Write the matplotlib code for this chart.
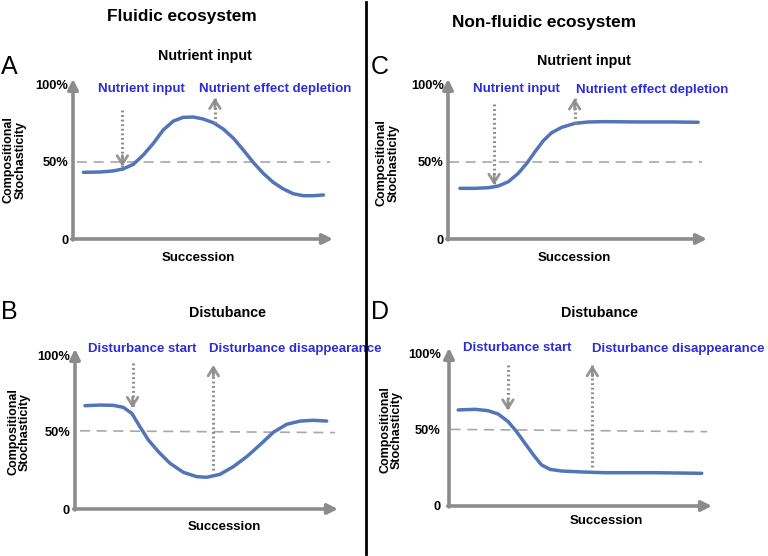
import matplotlib
matplotlib.use("Agg")
import matplotlib.pyplot as plt

plt.rcParams["font.family"] = ["Liberation Sans", "DejaVu Sans"]

# ------------------------------------------------------------------ #
# Data (x: succession 0-100, y: stochasticity %)
# ------------------------------------------------------------------ #
A_X = [4.0, 10.4, 15.5, 19.3, 23.2, 27.0, 30.9, 34.7, 38.6, 42.4, 46.3,
       50.1, 54.0, 57.8, 61.7, 65.5, 69.3, 73.2, 77.0, 80.9, 84.7, 88.6,
       92.4, 96.3]
A_Y = [43.3, 43.5, 44.2, 45.5, 48.5, 54.5, 62.1, 70.8, 76.6, 79.0, 79.2,
       77.9, 75.5, 71.4, 65.4, 57.8, 49.8, 42.6, 36.8, 32.5, 29.4, 28.1,
       28.1, 28.6]

B_X = [3.8, 9.5, 14.6, 18.4, 21.6, 24.7, 27.9, 31.7, 36.1, 41.2, 46.3,
       50.1, 55.1, 60.2, 65.3, 70.3, 75.4, 80.5, 85.6, 90.6, 95.7]
B_Y = [67.1, 67.5, 67.3, 66.0, 62.1, 53.4, 44.8, 37.2, 29.7, 23.8, 21.0,
       20.6, 22.5, 27.5, 34.0, 41.6, 49.8, 55.0, 57.1, 57.6, 57.1]

C_X = [4.6, 10.4, 15.6, 19.4, 23.3, 27.1, 30.4, 33.6, 36.8, 40.0, 43.9,
       49.0, 54.2, 60.6, 73.5, 86.4, 96.6]
C_Y = [32.9, 32.9, 33.3, 34.4, 37.2, 42.6, 49.1, 56.7, 63.8, 69.0, 72.5,
       75.1, 76.0, 76.2, 76.0, 76.0, 75.8]

D_X = [3.5, 9.9, 14.9, 18.7, 22.5, 25.7, 28.9, 32.1, 35.2, 38.4, 42.9,
       50.5, 59.3, 78.3, 96.1]
D_Y = [63.2, 63.6, 62.7, 60.5, 55.5, 48.9, 41.2, 33.6, 27.0, 24.1, 23.0,
       22.4, 21.9, 21.9, 21.5]

# 50% reference lines: x start/end, y start/end
A_REF = ([1.4, 98.8], [50, 50])
B_REF = ([1.9, 98.9], [50.8, 49.6])
C_REF = ([0.4, 98.2], [50, 50])
D_REF = ([0.6, 98.2], [50.4, 48.9])

# annotation arrows: (x, y_from, y_to)
A_ARROWS = [(19.0, 83.8, 47.0), (54.6, 75.0, 91.8)]
B_ARROWS = [(21.9, 94.6, 65.4), (52.6, 25.3, 93.5)]
C_ARROWS = [(17.8, 87.7, 35.0), (48.9, 75.5, 91.4)]
D_ARROWS = [(22.4, 92.8, 62.7), (54.5, 25.9, 92.8)]

# blue event labels: (text, x, y)
A_LABELS = [("Nutrient input", 26.4, 97.2), ("Nutrient effect depletion", 77.7, 97.2)]
B_LABELS = [("Disturbance start", 25.4, 103.9), ("Disturbance disappearance", 83.7, 103.9)]
C_LABELS = [("Nutrient input", 26.4, 97.2), ("Nutrient effect depletion", 78.9, 96.8)]
D_LABELS = [("Disturbance start", 26.0, 104.1), ("Disturbance disappearance", 87.1, 103.3)]

Y_TICKS = [0, 50, 100]
Y_TICK_LABELS = ["0", "50%", "100%"]

W, H = 768, 556
CURVE = "#5275b8"
BLUE = "#2d2dd6"
GREY = "#8c8c8c"


def fx(px):
    return px / W


def fy(py):
    return 1 - py / H


def draw_panel(fig, box, xs, ys, ref, arrows, labels, tickpad):
    left, right, y0, y100 = box
    ax = fig.add_axes([fx(left), fy(y0), fx(right - left), (y0 - y100) / H])
    ax.set_xlim(0, 100)
    ax.set_ylim(0, 100)
    for s in ax.spines.values():
        s.set_visible(False)
    ax.set_xticks([])
    ax.set_yticks(Y_TICKS)
    ax.set_yticklabels(Y_TICK_LABELS, fontsize=9.3, fontweight="bold")
    ax.tick_params(axis="y", length=0, pad=tickpad)
    ax.patch.set_alpha(0)

    # axes drawn as grey arrows
    ax.annotate("", xy=(0, 1.04), xytext=(0, -0.006), xycoords="axes fraction",
                arrowprops=dict(arrowstyle="-|>,head_length=0.6,head_width=0.3",
                                color=GREY, lw=2.6, shrinkA=0, shrinkB=0))
    ax.annotate("", xy=(1, 0), xytext=(-0.005, 0), xycoords="axes fraction",
                arrowprops=dict(arrowstyle="-|>,head_length=0.6,head_width=0.3",
                                color=GREY, lw=2.6, shrinkA=0, shrinkB=0))

    ax.plot(ref[0], ref[1], color="#a8a8a8", lw=1.2, ls=(0, (6, 4)))
    ax.plot(xs, ys, color=CURVE, lw=2.5, solid_capstyle="round",
            solid_joinstyle="round")

    for x, y_from, y_to in arrows:
        ax.plot([x, x], [y_from, y_to], color=GREY, lw=2.2, ls=(0, (0.6, 0.9)),
                clip_on=False)
        back = 8 if y_to < y_from else -8
        ax.annotate("", xy=(x, y_to), xytext=(0, back), textcoords="offset points",
                    annotation_clip=False,
                    arrowprops=dict(arrowstyle="->,head_length=0.6,head_width=0.38",
                                    color=GREY, lw=2, shrinkA=0, shrinkB=0,
                                    alpha=0.9))

    for text, x, y in labels:
        ax.text(x, y, text, color=BLUE, fontsize=9.5, fontweight="bold",
                ha="center", va="center", clip_on=False)

    return ax


fig = plt.figure(figsize=(W / 100, H / 100), dpi=100)

panels = [
    ((73, 333, 239, 85), A_X, A_Y, A_REF, A_ARROWS, A_LABELS, 3.4),
    ((75, 338, 509, 355), B_X, B_Y, B_REF, B_ARROWS, B_LABELS, 3.6),
    ((448, 707, 239, 85), C_X, C_Y, C_REF, C_ARROWS, C_LABELS, 3.0),
    ((449, 712, 506, 354), D_X, D_Y, D_REF, D_ARROWS, D_LABELS, 6.0),
]
for box, xs, ys, ref, arrows, labels, pad in panels:
    draw_panel(fig, box, xs, ys, ref, arrows, labels, pad)

# column titles
fig.text(fx(182), fy(17), "Fluidic ecosystem", fontsize=12.4, fontweight="bold",
         ha="center", va="center")
fig.text(fx(544), fy(22), "Non-fluidic ecosystem", fontsize=12.4, fontweight="bold",
         ha="center", va="center")

# panel subtitles
for px, py, txt in [(205, 56, "Nutrient input"), (584, 61, "Nutrient input"),
                    (228, 313, "Distubance"), (600, 313, "Distubance")]:
    fig.text(fx(px), fy(py), txt, fontsize=10.3, fontweight="bold",
             ha="center", va="center")

# panel letters
for px, py, txt in [(9, 67, "A"), (380, 67, "C"), (9, 312, "B"), (380, 312, "D")]:
    fig.text(fx(px), fy(py), txt, fontsize=18, ha="center", va="center")

# axis titles
for px, py in [(198, 258), (224, 527), (574, 258), (606, 521)]:
    fig.text(fx(px), fy(py), "Succession", fontsize=9.5, fontweight="bold",
             ha="center", va="center")
for px, py in [(15, 160), (19, 432), (388, 163), (391, 430)]:
    fig.text(fx(px), fy(py), "Compositional\nStochasticity", fontsize=9,
             fontweight="bold", rotation=90, ha="center", va="center",
             linespacing=1.0, multialignment="center")

# divider between the two ecosystems
fig.add_artist(plt.Line2D([fx(366), fx(366)], [fy(2), fy(554)], color="black", lw=2))

fig.savefig("out.png", dpi=100)
